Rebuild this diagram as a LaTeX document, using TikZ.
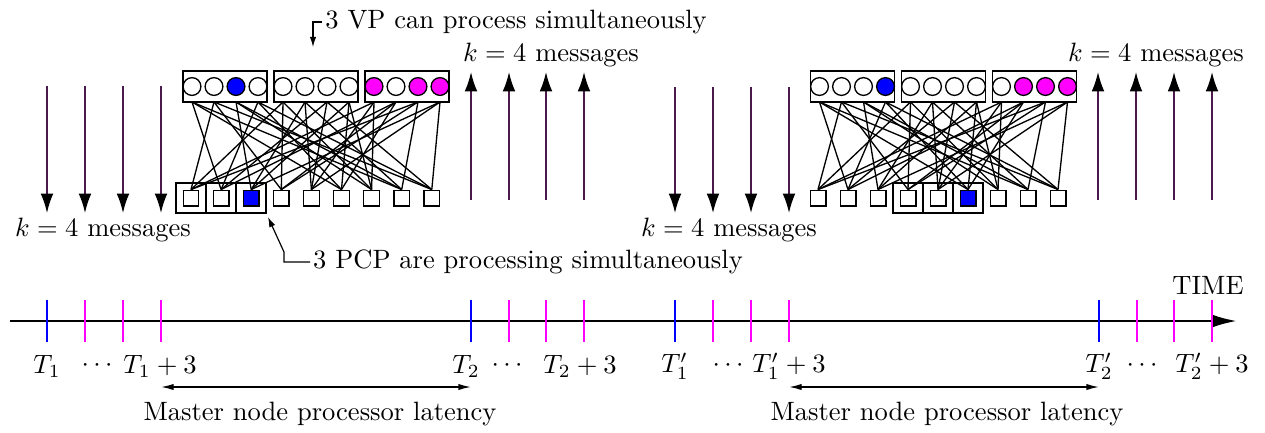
\documentclass[tikz,border=0pt]{standalone}
\usetikzlibrary{arrows.meta}
\definecolor{myblue}{RGB}{0,0,255}
\definecolor{mymag}{RGB}{255,0,255}
\definecolor{shaft}{RGB}{75,25,75}
\begin{document}
\begin{tikzpicture}[x=0.377pt,y=-0.377pt,
  vp/.style={circle,draw,line width=0.5pt,minimum size=6.7pt,inner sep=0pt},
  pcp/.style={rectangle,draw,line width=0.5pt,minimum size=5.9pt,inner sep=0pt},
  grp/.style={rectangle,draw,line width=0.55pt,minimum width=31.6pt,minimum height=11.7pt,inner sep=0pt},
  pbox/.style={rectangle,draw,line width=0.55pt,minimum size=11.3pt,inner sep=0pt},
  edge/.style={line width=0.5pt},
  msg/.style={draw=shaft,line width=0.6pt,-{Latex[length=7.3pt,width=4.8pt,color=black]}},
  tick/.style={line width=0.9pt},
  lab/.style={inner sep=1pt}]
\useasboundingbox (0,0) rectangle (1265,432);

% ---------- graph 1 ----------
\foreach \k in {0,1,2} \node[grp] (abox\k) at ({225+91*\k},86.5) {};
\foreach \i/\f in {1/white,2/white,3/myblue,4/white,5/white,6/white,7/white,8/white,9/mymag,10/white,11/mymag,12/mymag}{
  \pgfmathsetmacro\cx{225+91*int((\i-1)/4)+22*(mod(\i-1,4)-1.5)}
  \node[vp,fill=\f] (ac\i) at (\cx,86.5) {};
  \coordinate (ac\i b) at (\cx,102);
}
\foreach \k in {1,2,3} \node[pbox] (apb\k) at ({191+30*(\k-1)},198) {};
\foreach \i/\f in {1/white,2/white,3/myblue,4/white,5/white,6/white,7/white,8/white,9/white}
  \node[pcp,fill=\f] (as\i) at ({191+30.1*(\i-1)},198) {};

% ---------- graph 2 ----------
\foreach \k in {0,1,2} \node[grp] (bbox\k) at ({852.5+91*\k},86.5) {};
\foreach \i/\f in {1/white,2/white,3/white,4/myblue,5/white,6/white,7/white,8/white,9/white,10/mymag,11/mymag,12/mymag}{
  \pgfmathsetmacro\cx{852.5+91*int((\i-1)/4)+22*(mod(\i-1,4)-1.5)}
  \node[vp,fill=\f] (bc\i) at (\cx,86.5) {};
  \coordinate (bc\i b) at (\cx,102);
}
\foreach \k in {4,5,6} \node[pbox] (bpb\k) at ({818+30*(\k-1)},198) {};
\foreach \i/\f in {1/white,2/white,3/white,4/white,5/white,6/myblue,7/white,8/white,9/white}
  \node[pcp,fill=\f] (bs\i) at ({818+30*(\i-1)},198) {};

% ---------- edges (same mapping in both graphs) ----------
\foreach \g in {a,b}
  \foreach \c/\s in {1/2,1/6,1/8, 2/1,2/4,2/9, 3/3,3/7,3/8, 4/2,4/6,4/9,
                     5/1,5/4,5/7, 6/3,6/5,6/8, 7/2,7/5,7/9, 8/3,8/6,8/7,
                     9/1,9/5,9/7, 10/2,10/4,10/6, 11/1,11/4,11/8, 12/3,12/5,12/9}
    \draw[edge] (\g c\c b) -- (\g s\s.north);

% ---------- message arrows ----------
\foreach \x [count=\n] in {47,85,123,161}{
  \coordinate (d1s\n) at (\x,86); \coordinate (d1e\n) at (\x,213);
  \draw[msg] (d1s\n) -- (d1e\n);}
\foreach \x [count=\n] in {471,509,546,584}{
  \coordinate (u1s\n) at (\x,200); \coordinate (u1e\n) at (\x,72);
  \draw[msg] (u1s\n) -- (u1e\n);}
\foreach \x [count=\n] in {675,713,751,789}{
  \coordinate (d2s\n) at (\x,87); \coordinate (d2e\n) at (\x,213);
  \draw[msg] (d2s\n) -- (d2e\n);}
\foreach \x [count=\n] in {1098,1136,1174,1212}{
  \coordinate (u2s\n) at (\x,200); \coordinate (u2e\n) at (\x,72);
  \draw[msg] (u2s\n) -- (u2e\n);}

\node[lab] (k1) at (103,230) {$k=4$ messages};
\node[lab] (k2) at (551,55) {$k=4$ messages};
\node[lab] (k3) at (729,230) {$k=4$ messages};
\node[lab] (k4) at (1156,55) {$k=4$ messages};

% ---------- annotations ----------
\node[lab] (vptext) at (516,22) {3 VP can process simultaneously};
\coordinate (vpa) at (313,17);
\coordinate (vpt) at (313,47);
\draw[line width=0.45pt,-{Latex[length=3.8pt,width=2.4pt]}] (vptext.west) -- (vptext.west -| vpa) -- (vpt);

\node[lab] (pcptext) at (528,262) {3 PCP are processing simultaneously};
\coordinate (pca) at (284,262);
\coordinate (pcb) at (284,252);
\coordinate (pct) at (268,217);
\draw[line width=0.45pt,-{Latex[length=3.8pt,width=2.4pt]}] (pcptext.west) -- (pca) -- (pcb) -- (pct);

% ---------- timeline ----------
\coordinate (t0) at (10,321);
\coordinate (t1) at (1237,321);
\draw[line width=1pt,-{Latex[length=9.5pt,width=5pt]}] (t0) -- (t1);
\foreach \x in {47,471,675,1099} \draw[tick,myblue] (\x,300) -- (\x,342);
\foreach \x in {85,123,161,509,546,584,713,751,789,1137,1174,1212} \draw[tick,mymag] (\x,300) -- (\x,342);

\node[lab] (time) at (1208,285) {TIME};
\node[lab] (l1) at (47,366) {$T_1$};
\node[lab] (l2) at (97,366) {$\cdots$};
\node[lab] (l3) at (160,366) {$T_1+3$};
\node[lab] (l4) at (466,366) {$T_2$};
\node[lab] (l5) at (507,366) {$\cdots$};
\node[lab] (l6) at (580,366) {$T_2+3$};
\node[lab] (l7) at (675,366) {$T'_1$};
\node[lab] (l8) at (728,366) {$\cdots$};
\node[lab] (l9) at (789,366) {$T'_1+3$};
\node[lab] (l10) at (1099,366) {$T'_2$};
\node[lab] (l11) at (1142,366) {$\cdots$};
\node[lab] (l12) at (1212,366) {$T'_2+3$};

\coordinate (m1a) at (161,387); \coordinate (m1b) at (471,387);
\draw[line width=0.55pt,{Latex[length=4.8pt,width=2.4pt]}-{Latex[length=4.8pt,width=2.4pt]}] (m1a) -- (m1b);
\node[lab] (lat1) at (320,414) {Master node processor latency};
\coordinate (m2a) at (789,387); \coordinate (m2b) at (1099,387);
\draw[line width=0.55pt,{Latex[length=4.8pt,width=2.4pt]}-{Latex[length=4.8pt,width=2.4pt]}] (m2a) -- (m2b);
\node[lab] (lat2) at (947,414) {Master node processor latency};
\end{tikzpicture}
\end{document}
